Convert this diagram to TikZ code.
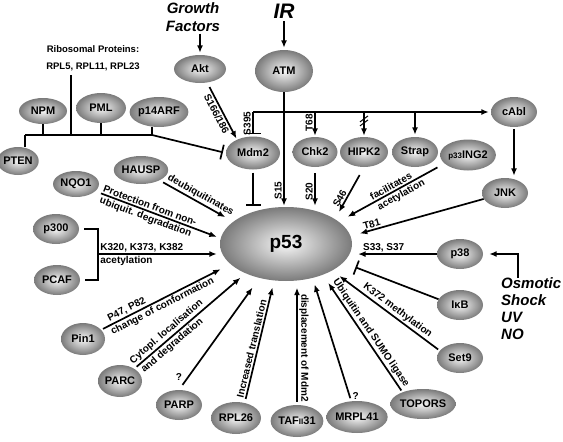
\documentclass[tikz,border=0pt]{standalone}
\usepackage{fontspec}
\setmainfont{Liberation Sans}
\usetikzlibrary{shapes.geometric,arrows.meta,calc}
\begin{document}
\begin{tikzpicture}[x=1pt,y=-1pt,
  prot/.style={ellipse, inner sep=0pt, draw=none, inner color=black!3, outer color=black!52,
    font=\bfseries\fontsize{11}{11}\selectfont, minimum width=46pt, minimum height=30pt},
  lab/.style={font=\bfseries\fontsize{10}{10}\selectfont, inner sep=1.5pt},
  big/.style={font=\bfseries\itshape\fontsize{15}{18}\selectfont, inner sep=0pt},
  conn/.style={line width=1.7pt, line join=miter},
  arr/.style={conn, -{Latex[length=7.5pt,width=6pt]}},
  inh/.style={conn, -{Bar[width=15pt]}},
]
\useasboundingbox (0,0) rectangle (563,442);

% texts
\node[big, align=center] (GF) at (193,17) {Growth\\Factors};
\node[font=\bfseries\itshape\fontsize{21}{21}\selectfont, inner sep=0pt] (IR) at (284,11) {IR};
\node[font=\bfseries\fontsize{9.5}{17}\selectfont, align=center, inner sep=0pt] (ribo) at (93,58) {Ribosomal Proteins:\\RPL5, RPL11, RPL23};
\node[big, align=left, anchor=north west, font=\bfseries\itshape\fontsize{15}{17}\selectfont] (osm) at (501,277) {Osmotic\\Shock\\UV\\NO};

% proteins
\node[prot, minimum width=52pt, minimum height=28pt] (Akt) at (200,69) {Akt};
\node[prot, minimum width=58pt, minimum height=42pt] (ATM) at (284,71) {ATM};
\node[prot, minimum width=48pt, minimum height=26pt] (NPM) at (43,111) {NPM};
\node[prot, minimum width=50pt, minimum height=30pt] (PML) at (101,108) {PML};
\node[prot, minimum width=52pt, minimum height=30pt] (p14ARF) at (159,112) {p14ARF};
\node[prot, minimum width=38pt, minimum height=28pt] (PTEN) at (18,161) {PTEN};
\node[prot, minimum width=54pt, minimum height=33pt] (Mdm2) at (253,153) {Mdm2};
\node[prot, minimum width=45pt] (Chk2) at (315,152) {Chk2};
\node[prot, minimum width=48pt] (HIPK2) at (364,152) {HIPK2};
\node[prot, minimum width=46pt] (Strap) at (415,152) {Strap};
\node[prot, minimum width=52pt, minimum height=31pt] (p33ING2) at (468,155) {{\fontsize{8}{8}\selectfont p33}ING2};
\node[prot, minimum width=46pt] (cAbl) at (514,112) {cAbl};
\node[prot, minimum width=46pt] (JNK) at (505,193) {JNK};
\node[prot, minimum width=48pt, minimum height=28pt] (HAUSP) at (141,170) {HAUSP};
\node[prot, minimum width=46pt, minimum height=26pt] (NQO1) at (76,184) {NQO1};
\node[prot, minimum width=46pt] (p300) at (56,229) {p300};
\node[prot, minimum width=46pt] (PCAF) at (57,280) {PCAF};
\node[prot, minimum width=132pt, minimum height=74pt, font=\bfseries\fontsize{19}{19}\selectfont] (p53) at (286,244) {p53};
\node[prot, minimum width=46pt] (p38) at (460,254) {p38};
\node[prot, minimum width=46pt] (IkB) at (460,305) {IκB};
\node[prot, minimum width=46pt] (Set9) at (460,358) {Set9};
\node[prot, minimum width=57pt] (TOPORS) at (423,404) {TOPORS};
\node[prot, minimum width=48pt, minimum height=32pt] (MRPL41) at (357,417) {MRPL41};
\node[prot, minimum width=48pt, minimum height=32pt] (TAF) at (297,421) {TAF{\fontsize{8}{8}\selectfont II}31};
\node[prot, minimum width=50pt, minimum height=32pt] (RPL26) at (236,418) {RPL26};
\node[prot, minimum width=46pt] (PARP) at (179,405) {PARP};
\node[prot, minimum width=44pt, minimum height=32pt] (PARC) at (120,381) {PARC};
\node[prot, minimum width=44pt, minimum height=32pt] (Pin1) at (83,339) {Pin1};

% top inputs
\draw[arr, shorten <=2pt, shorten >=2pt] (GF.south -| Akt.north) -- (Akt.north);
\draw[arr, shorten <=3pt, shorten >=2pt] (IR.south) -- (IR.south |- ATM.north);
\draw[arr, shorten <=5pt, shorten >=1pt] (Akt) -- node[lab, sloped, below, pos=.5]{S166/186} (Mdm2.140);

% ribosomal / ARF bar
\coordinate (barL) at (25,135);
\coordinate (barR) at (152,135);
\coordinate (rl) at (71,75);
\draw[conn] (rl) -- (rl |- barL);
\draw[conn] (NPM.south) -- (NPM.south |- barL);
\draw[conn] (PML.south) -- (PML.south |- barL);
\draw[conn] (barR |- p14ARF.south) -- (barR);
\draw[conn] (barL) -- (barL |- PTEN.north);
\draw[inh, shorten >=3pt] (barL) -- (barR) -- (Mdm2.west);

% ATM outputs
\coordinate (hlL) at (253,112);
\draw[arr, shorten >=1pt] (ATM.south) -- node[lab, rotate=90, anchor=south, pos=.86]{S15} (ATM.south |- p53.north);
\draw[arr, shorten >=2pt] (hlL) -- (hlL -| cAbl.west);
\draw[inh, shorten >=2pt] (hlL) -- node[lab, rotate=90, anchor=south, pos=.47]{S395} (hlL |- Mdm2.north);
\draw[arr, shorten >=1pt] (Chk2 |- hlL) -- node[lab, rotate=90, anchor=south, pos=.43]{T68} (Chk2.north);
\draw[arr, shorten >=1pt] (HIPK2 |- hlL) -- coordinate[pos=.36] (sl) (HIPK2.north);
\draw[line width=1pt] ($(sl)+(-4,1)$) -- ($(sl)+(4,-5)$);
\draw[line width=1pt] ($(sl)+(-4,5)$) -- ($(sl)+(4,-1)$);
\draw[arr, shorten >=2pt] (Strap |- hlL) -- (Strap.north);
\draw[arr, shorten <=2pt, shorten >=2pt] (cAbl.south) -- (cAbl.south |- JNK.north);

% osmotic shock
\draw[arr, shorten >=6pt] ($(osm.north west)+(17,1)$) |- (p38.east);

% into p53 (top and right)
\draw[inh, shorten <=3pt, shorten >=1pt] (Mdm2.south) -- (Mdm2.south |- p53.north);
\draw[arr, shorten <=6pt, shorten >=1pt] (Chk2.south) -- node[lab, rotate=90, anchor=south, pos=.62]{S20} (Chk2.south |- p53.north);
\draw[arr, shorten <=9pt, shorten >=8pt] (HIPK2.south) -- node[lab, sloped, above, pos=.66]{S46} (p53.27);
\draw[arr, shorten <=8pt, shorten >=10pt] (p33ING2.200) -- node[lab, sloped, above, pos=.48]{facilitates} node[lab, sloped, below, pos=.44]{acetylation} (p53.23);
\draw[arr, shorten >=9.5pt] (JNK) -- node[lab, sloped, above, pos=.83]{T81} (p53.7);
\draw[arr, shorten >=8.4pt] (p38) -- node[lab, above, pos=.61]{S33, S37} (p53.351);
\draw[inh, shorten >=13pt] (IkB.165) -- (p53.342);
\draw[arr, shorten <=2pt, shorten >=9pt] (Set9.160) -- node[lab, sloped, above, pos=.43]{K372 methylation} (p53.330);
\draw[arr, shorten <=2pt, shorten >=9.7pt] (TOPORS.150) -- node[lab, sloped, above, pos=.47]{Ubiquitin and SUMO ligase} (p53.320);
\draw[arr, shorten <=3pt, shorten >=6.6pt] (MRPL41.110) -- node[lab, pos=0, anchor=south west, inner sep=.5pt]{?} (p53.308);
\draw[arr, shorten <=3pt, shorten >=6.5pt] (TAF.north) -- node[lab, rotate=-90, anchor=south, pos=.46]{displacement of Mdm2} (TAF.north |- p53.south);
\draw[arr, shorten <=4pt, shorten >=7pt] (RPL26.60) -- node[lab, sloped, above, pos=.43]{Increased translation} (p53.252);
\draw[arr, shorten <=6pt, shorten >=11.7pt] (PARP.north) -- node[lab, pos=0, anchor=south, yshift=7pt]{?} (p53.232);
\draw[arr, shorten <=3pt, shorten >=6.6pt] (PARC) -- node[lab, sloped, above, pos=.33]{Cytopl. localisation} node[lab, sloped, below, pos=.30]{and degradation} (p53.216);
\draw[arr, shorten <=2pt, shorten >=11pt] (Pin1) -- node[lab, sloped, above, pos=.22]{P47, P82} node[lab, sloped, below, pos=.45]{change of conformation} (p53.200);

% left side
\coordinate (bkt) at (98,229);
\coordinate (bkm) at (98,254);
\draw[conn, shorten <=5pt, shorten >=5pt] (p300.east) -- (bkt) |- (PCAF.east);
\draw[arr, shorten >=3pt] (bkm) -- node[lab, pos=0, anchor=south west]{K320, K373, K382} node[lab, pos=0, anchor=north west]{acetylation} (bkm -| p53.west);
\draw[arr, shorten <=6pt, shorten >=4pt] (NQO1) -- node[lab, sloped, above, pos=.42]{Protection from non-} node[lab, sloped, below, pos=.42]{ubiquit. degradation} (p53.175);
\draw[arr, shorten <=4pt, shorten >=9pt] (HAUSP) -- node[lab, sloped, above, pos=.51]{deubiquitinates} (p53.157);
\end{tikzpicture}
\end{document}
